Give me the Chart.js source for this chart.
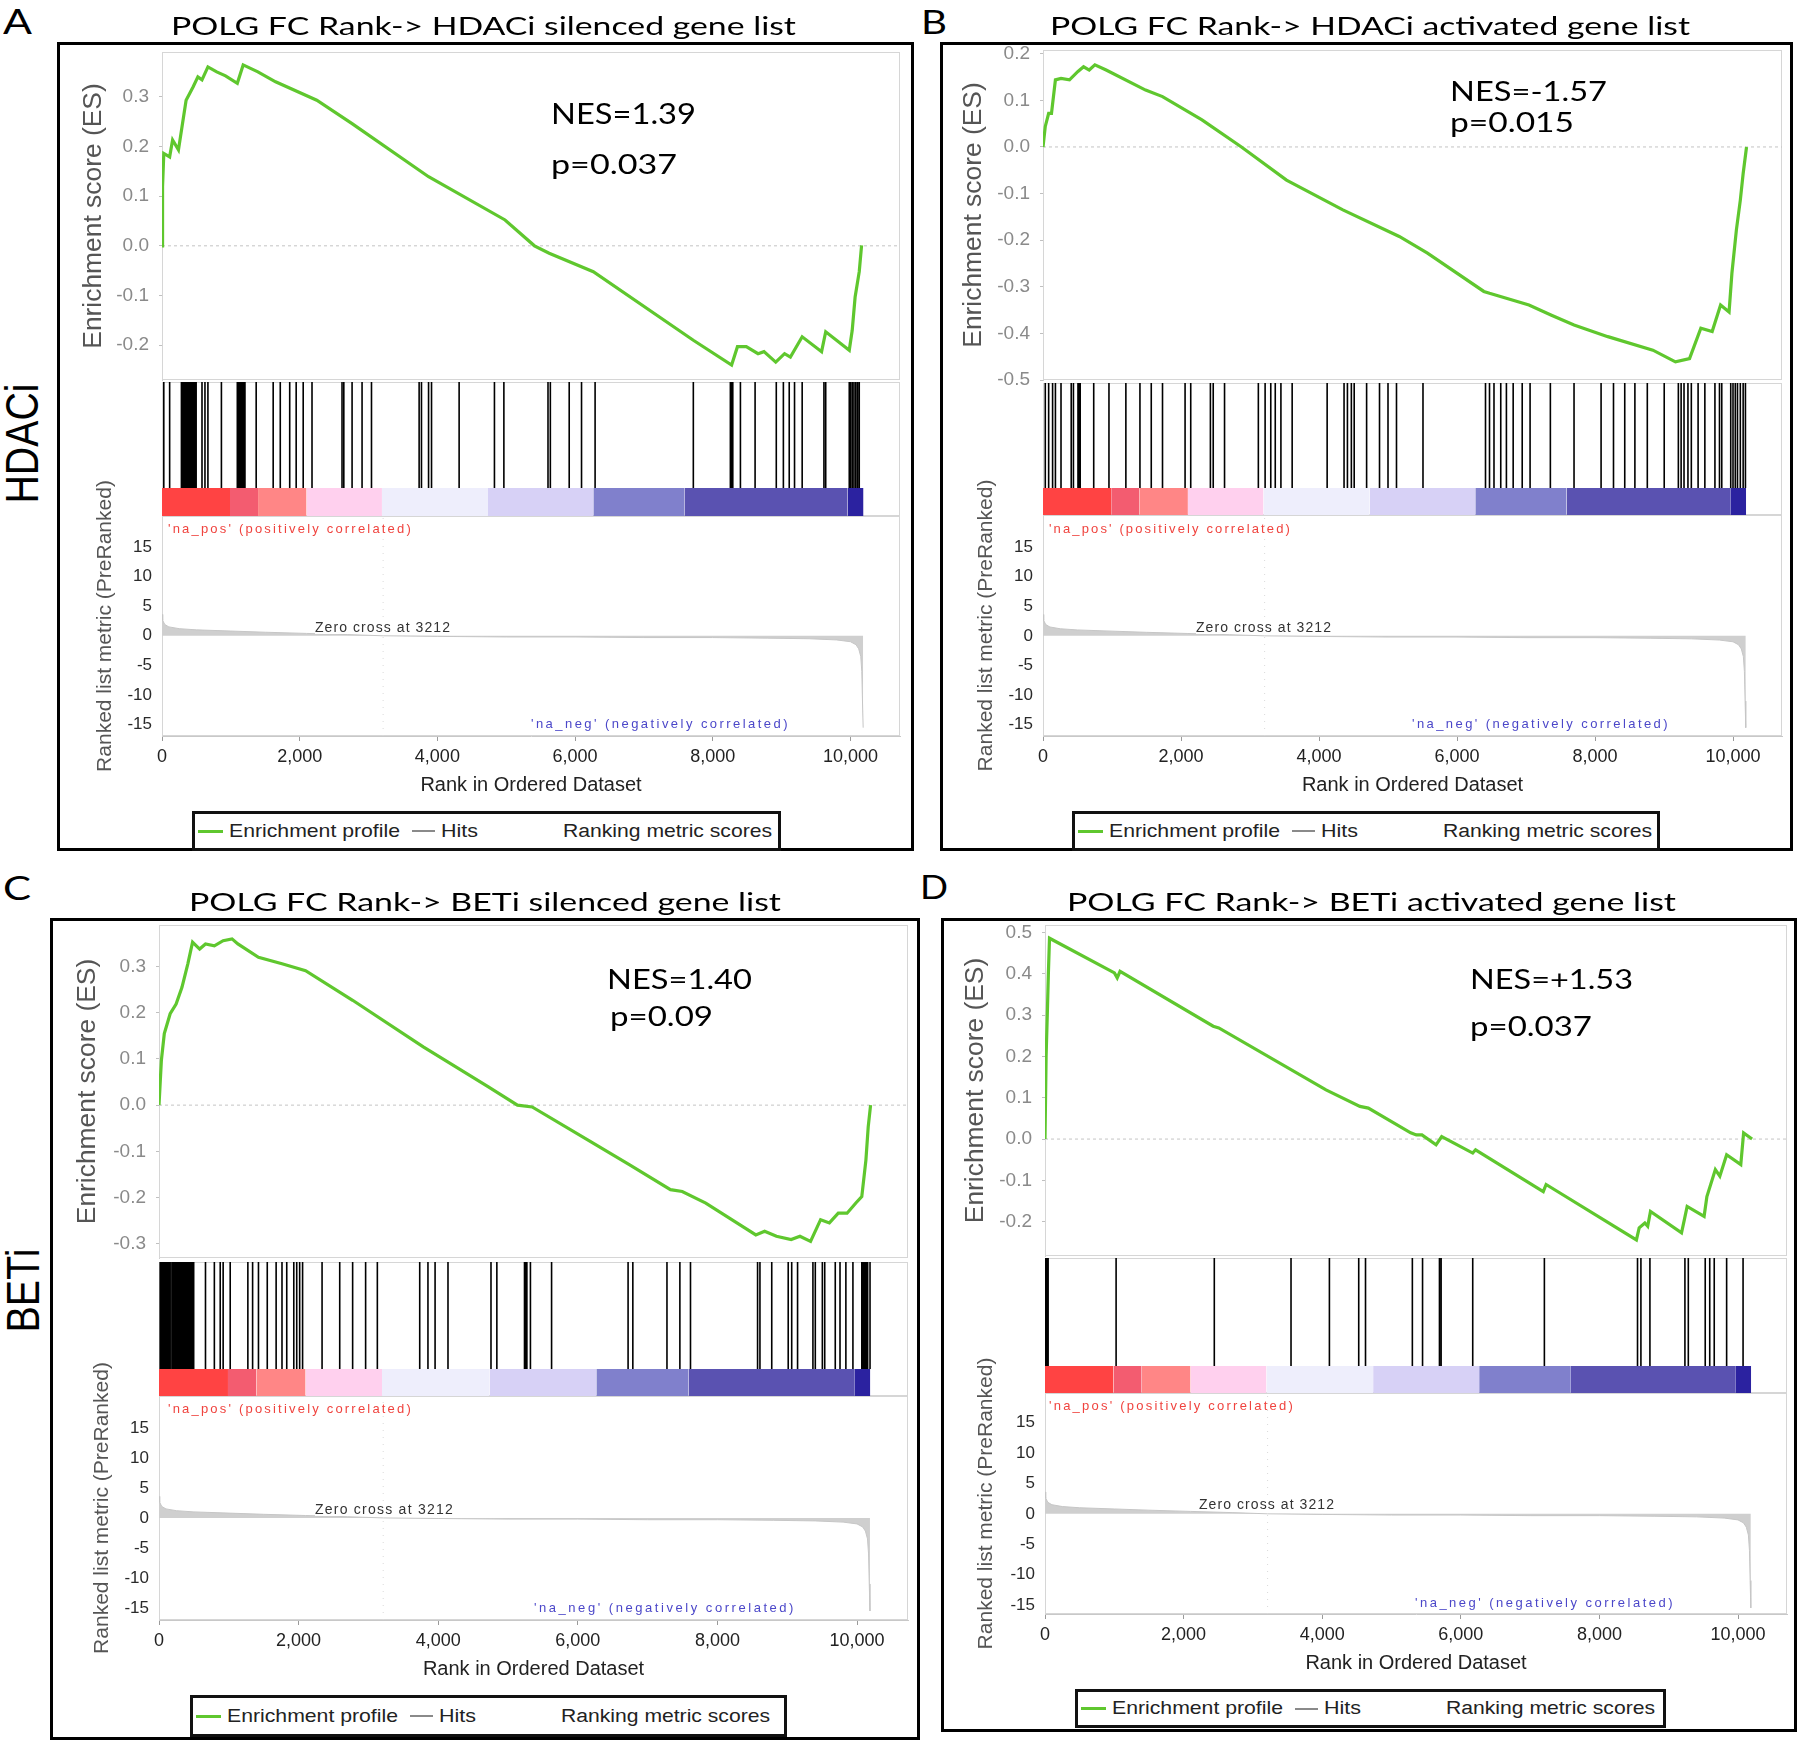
<!DOCTYPE html>
<html>
<head>
<meta charset="utf-8">
<script src="https://cdn.jsdelivr.net/npm/chart.js@4.4.1/dist/chart.umd.min.js"></script>
<style>
  html, body { margin: 0; padding: 0; background: #fff; }
  #page { position: relative; width: 1800px; height: 1747px; overflow: hidden; background: #fff; }
  canvas { position: absolute; }
  .frame { position: absolute; border: 3px solid #000; box-sizing: border-box; }
  .txt { position: absolute; white-space: nowrap; line-height: 1; transform-origin: 0 0; }
  .legend { position: absolute; border: 3px solid #111; box-sizing: border-box; background: #fff; }
  .swatch { position: absolute; }
</style>
</head>
<body>
<div id="page"></div>
<script>
// ---- data ----
const rankTicks = [0, 2000, 4000, 6000, 8000, 10000];
const metricTicks = [-15, -10, -5, 0, 5, 10, 15];
const esTicksA = [-0.2, -0.1, 0, 0.1, 0.2, 0.3];
const esTicksB = [-0.5, -0.4, -0.3, -0.2, -0.1, 0, 0.1, 0.2];
const esTicksC = [-0.3, -0.2, -0.1, 0, 0.1, 0.2, 0.3];
const esTicksD = [-0.2, -0.1, 0, 0.1, 0.2, 0.3, 0.4, 0.5];

// ranked list metric (same ranked list in all four panels)
const metricRank = [0, 10, 40, 100, 250, 500, 1000, 1500, 2100, 2700, 3212, 4000, 5000, 6000, 7000, 8000, 8800, 9400, 9800, 10000, 10080, 10120, 10150, 10165, 10175, 10185];
const metricValue = [3.6, 2.6, 1.9, 1.5, 1.2, 1.0, 0.8, 0.6, 0.4, 0.2, 0, -0.1, -0.2, -0.2, -0.3, -0.3, -0.4, -0.5, -0.7, -1.0, -1.5, -2.2, -3.5, -6, -11, -15.5];
const zeroCross = 3212;

// heat bar under the hits
const barEdges = [0, 988, 1395, 2100, 3195, 4735, 6265, 7588, 9960, 10190];
const barColors = ['#ff4343', '#f35c70', '#ff8686', '#ffd0ee', '#eeeefc', '#d7d1f6', '#8080cc', '#5a52b1', '#2b22a0'];

// A: HDACi silenced
const esRankA = [0, 8, 26, 111, 154, 239, 350, 453, 521, 581, 667, 795, 923, 1094, 1179, 1393, 1650, 2248, 2761, 3872, 4983, 5410, 5624, 6265, 7718, 8274, 8359, 8487, 8658, 8744, 8915, 9043, 9128, 9299, 9581, 9641, 9983, 10026, 10068, 10128, 10162];
const esValueA = [0, 0.119, 0.186, 0.179, 0.213, 0.193, 0.293, 0.320, 0.340, 0.334, 0.360, 0.350, 0.342, 0.327, 0.364, 0.350, 0.330, 0.293, 0.246, 0.139, 0.052, 0, -0.015, -0.052, -0.190, -0.240, -0.203, -0.203, -0.217, -0.213, -0.234, -0.217, -0.224, -0.183, -0.213, -0.173, -0.210, -0.170, -0.103, -0.052, 0.001];
const hitsA = [26, 111, 282, 295, 308, 320, 333, 350, 368, 390, 410, 430, 453, 475, 496, 581, 624, 667, 863, 1094, 1107, 1120, 1137, 1154, 1167, 1179, 1192, 1205, 1368, 1615, 1718, 1855, 1949, 2051, 2179, 2615, 2641, 2761, 2906, 3043, 3735, 3769, 3872, 3915, 4316, 4829, 4966, 5607, 5641, 5915, 6094, 6291, 7718, 8256, 8275, 8291, 8402, 8615, 8923, 9026, 9111, 9188, 9299, 9615, 9641, 9983, 10000, 10026, 10051, 10077, 10103, 10128];

// B: HDACi activated
const esRankB = [0, 33, 82, 123, 180, 261, 384, 507, 588, 670, 752, 915, 1487, 1732, 2304, 2876, 3529, 4346, 5163, 5572, 6389, 6471, 7043, 7369, 7696, 8186, 8839, 9166, 9370, 9534, 9698, 9820, 9943, 9984, 10049, 10106, 10147, 10196];
const esValueB = [0, 0.044, 0.072, 0.072, 0.144, 0.147, 0.144, 0.162, 0.172, 0.165, 0.176, 0.165, 0.122, 0.108, 0.058, 0, -0.071, -0.135, -0.192, -0.228, -0.310, -0.314, -0.339, -0.361, -0.382, -0.407, -0.436, -0.461, -0.454, -0.389, -0.396, -0.339, -0.354, -0.271, -0.178, -0.114, -0.057, 0];
const hitsB = [33, 82, 139, 180, 261, 409, 441, 507, 525, 539, 735, 956, 1201, 1405, 1569, 1732, 2059, 2141, 2426, 2467, 2631, 3121, 3219, 3301, 3366, 3448, 3611, 4118, 4363, 4412, 4469, 4510, 4690, 4877, 5000, 5123, 5507, 6413, 6471, 6536, 6634, 6716, 6814, 6945, 7059, 7353, 7696, 8088, 8268, 8431, 8578, 8758, 9003, 9208, 9248, 9290, 9347, 9396, 9494, 9592, 9738, 9804, 9837, 9967, 10000, 10033, 10065, 10106, 10147, 10180];

// C: BETi silenced
const esRankC = [0, 34, 76, 160, 245, 329, 413, 481, 582, 666, 793, 919, 1046, 1130, 1425, 1762, 2100, 2774, 3786, 4713, 5135, 5346, 6147, 6737, 7327, 7496, 7833, 8550, 8676, 8845, 9056, 9182, 9334, 9478, 9604, 9731, 9857, 9983, 10068, 10127, 10160, 10194];
const esValueC = [0, 0.097, 0.155, 0.198, 0.219, 0.255, 0.306, 0.353, 0.338, 0.349, 0.345, 0.356, 0.360, 0.349, 0.320, 0.306, 0.291, 0.227, 0.126, 0.040, 0, -0.004, -0.076, -0.129, -0.183, -0.187, -0.212, -0.281, -0.273, -0.284, -0.291, -0.284, -0.295, -0.248, -0.255, -0.234, -0.234, -0.212, -0.198, -0.119, -0.047, 0];
const hitsC = [17, 30, 42, 60, 76, 95, 118, 140, 160, 185, 202, 225, 245, 265, 287, 310, 329, 350, 371, 392, 413, 435, 455, 476, 497, 666, 793, 877, 919, 1020, 1273, 1341, 1425, 1551, 1678, 1762, 1830, 1931, 1973, 2015, 2057, 2336, 2589, 2774, 2960, 3128, 3735, 3853, 3955, 4140, 4756, 4840, 5236, 5253, 5270, 5321, 5624, 6720, 6788, 7277, 7462, 7614, 8575, 8609, 8778, 9014, 9064, 9148, 9368, 9402, 9503, 9537, 9688, 9756, 9840, 9941, 10068, 10090, 10110, 10130, 10152, 10186];

// D: BETi activated
const esRankD = [0, 16, 33, 49, 65, 1002, 1042, 1083, 2427, 2508, 4055, 4544, 4666, 5277, 5358, 5439, 5643, 5724, 6172, 6213, 7190, 7231, 8534, 8574, 8656, 8697, 8737, 9185, 9226, 9266, 9511, 9551, 9673, 9738, 9836, 10040, 10081, 10203];
const esValueD = [0, 0.2, 0.301, 0.402, 0.486, 0.402, 0.390, 0.406, 0.273, 0.269, 0.119, 0.079, 0.075, 0.015, 0.010, 0.010, -0.014, 0.006, -0.034, -0.026, -0.127, -0.110, -0.244, -0.215, -0.203, -0.211, -0.175, -0.227, -0.195, -0.163, -0.187, -0.139, -0.074, -0.090, -0.038, -0.062, 0.015, 0];
const hitsD = [5, 16, 33, 45, 1026, 2443, 3550, 4104, 4527, 4625, 5301, 5448, 5692, 5716, 6172, 7206, 8550, 8599, 8729, 9234, 9283, 9527, 9592, 9657, 9836, 10073];

// ---- layout ----
const GREEN = '#5fc72e';
const SANS = "'Liberation Sans', Arial, sans-serif";
const LATO = "Lato, 'Open Sans', sans-serif";
const page = document.getElementById('page');

Chart.defaults.font.family = SANS;
Chart.defaults.animation = false;
Chart.defaults.responsive = false;
Chart.defaults.devicePixelRatio = 1;
Chart.defaults.plugins.legend.display = false;
Chart.defaults.plugins.tooltip.enabled = false;

const panels = [
  { title: 'POLG FC Rank-> HDACi silenced gene list', left: 162, width: 738, xmax: 10720,
    esTop: 52, esBottom: 380, esMin: -0.27, esMax: 0.39, esOff: 68, mOff: 56,
    hitsTop: 382, cbFrac: 0.209, mTop: 516, mBottom: 736, mMin: -16.9, mMax: 20.2,
    esRank: esRankA, esValue: esValueA, hits: hitsA, esTicks: esTicksA },
  { title: 'POLG FC Rank-> HDACi activated gene list', left: 1043, width: 739, xmax: 10710,
    esTop: 50, esBottom: 380, esMin: -0.5, esMax: 0.208, esOff: 69, mOff: 56,
    hitsTop: 383, cbFrac: 0.205, mTop: 515, mBottom: 736, mMin: -16.9, mMax: 20.4,
    esRank: esRankB, esValue: esValueB, hits: hitsB, esTicks: esTicksB },
  { title: 'POLG FC Rank-> BETi silenced gene list', left: 159, width: 749, xmax: 10730,
    esTop: 925, esBottom: 1258, esMin: -0.331, esMax: 0.39, esOff: 71, mOff: 56,
    hitsTop: 1262, cbFrac: 0.201, mTop: 1396, mBottom: 1620, mMin: -17, mMax: 20.3,
    esRank: esRankC, esValue: esValueC, hits: hitsC, esTicks: esTicksC },
  { title: 'POLG FC Rank-> BETi activated gene list', left: 1045, width: 742, xmax: 10707,
    esTop: 925, esBottom: 1256, esMin: -0.283, esMax: 0.518, esOff: 69, mOff: 58,
    hitsTop: 1258, cbFrac: 0.2, mTop: 1393, mBottom: 1614, mMin: -16.5, mMax: 19.9,
    esRank: esRankD, esValue: esValueD, hits: hitsD, esTicks: esTicksD }
];

// light grey box round each plot area
const plotFrame = {
  id: 'plotFrame',
  beforeDatasetsDraw(chart) {
    const a = chart.chartArea, ctx = chart.ctx;
    ctx.save();
    ctx.strokeStyle = '#d6d6d6';
    ctx.lineWidth = 1;
    ctx.strokeRect(a.left + 0.5, a.top + 0.5, a.right - a.left - 1, a.bottom - a.top - 1);
    ctx.restore();
  }
};

function makeCanvas(left, top, width, height) {
  const c = document.createElement('canvas');
  c.width = width;
  c.height = height;
  c.style.left = left + 'px';
  c.style.top = top + 'px';
  c.style.width = width + 'px';
  c.style.height = height + 'px';
  page.appendChild(c);
  return c;
}

function fixTicks(values) {
  return ax => { ax.ticks = values.map(v => ({ value: v })); };
}

function esChart(p) {
  const padL = Math.round(p.esOff + 15.8), padT = 14, padR = 12, padB = 14;
  const h = p.esBottom - p.esTop;
  const c = makeCanvas(p.left - padL, p.esTop - padT, p.width + padL + padR, h + padT + padB);
  new Chart(c, {
    type: 'line',
    data: {
      datasets: [
        { data: p.esRank.map((r, i) => ({ x: r, y: p.esValue[i] })),
          borderColor: GREEN, borderWidth: 3.2, pointRadius: 0, tension: 0, order: 1 },
        { data: [{ x: 0, y: 0 }, { x: p.xmax, y: 0 }],
          borderColor: '#c4c4c4', borderWidth: 1, borderDash: [3, 3], pointRadius: 0, order: 2 }
      ]
    },
    options: {
      layout: { padding: { top: padT, right: padR, bottom: padB, left: 0 } },
      scales: {
        x: { type: 'linear', min: 0, max: p.xmax, display: false },
        y: {
          type: 'linear', min: p.esMin, max: p.esMax,
          afterBuildTicks: fixTicks(p.esTicks),
          afterFit: ax => { ax.width = padL; ax.paddingTop = 0; ax.paddingBottom = 0; },
          ticks: { color: '#8a8a8a', font: { size: 19 }, padding: 10, callback: v => v.toFixed(1) },
          grid: { drawOnChartArea: false, drawTicks: true, tickLength: 3, tickColor: '#c0c0c0' },
          border: { color: '#cfcfcf' },
          title: { display: true, text: 'Enrichment score (ES)', color: '#555', font: { size: 26.4 }, padding: 0 }
        }
      }
    },
    plugins: [plotFrame]
  });
}

function hitsChart(p) {
  const h = p.mTop - p.hitsTop;
  const c = makeCanvas(p.left, p.hitsTop, p.width, h);
  const cb = p.cbFrac;
  const hitData = [];
  p.hits.forEach(r => { hitData.push({ x: r, y: cb }, { x: r, y: 1 }, { x: r, y: null }); });
  const bars = barColors.map((col, i) => ({
    data: [{ x: barEdges[i], y: cb }, { x: barEdges[i + 1], y: cb }],
    fill: 'origin', backgroundColor: col, borderWidth: 0, pointRadius: 0, order: 2
  }));
  new Chart(c, {
    type: 'line',
    data: {
      datasets: [
        { data: hitData, borderColor: '#000', borderWidth: 1.6, pointRadius: 0, spanGaps: false, order: 1 }
      ].concat(bars)
    },
    options: {
      layout: { padding: 0 },
      scales: {
        x: { type: 'linear', min: 0, max: p.xmax, display: false },
        y: { type: 'linear', min: 0, max: 1, display: false }
      }
    },
    plugins: [plotFrame]
  });
}

function metricChart(p) {
  const padL = Math.round(p.mOff + 12.6), padT = 90, padR = 12, padB = 61;
  const h = p.mBottom - p.mTop;
  const c = makeCanvas(p.left - padL, p.mTop - padT, p.width + padL + padR, h + padT + padB);
  new Chart(c, {
    type: 'line',
    data: {
      datasets: [
        { data: metricRank.map((r, i) => ({ x: r, y: metricValue[i] })),
          borderColor: '#c6c6c6', borderWidth: 1, backgroundColor: '#cfcfcf',
          fill: 'origin', pointRadius: 0, tension: 0 },
        { data: [{ x: zeroCross, y: p.mMin }, { x: zeroCross, y: p.mMax }],
          borderColor: '#dadada', borderWidth: 1, borderDash: [1, 6], pointRadius: 0 }
      ]
    },
    options: {
      layout: { padding: { top: padT, right: padR, left: 0, bottom: 0 } },
      scales: {
        x: {
          type: 'linear', min: 0, max: p.xmax,
          afterBuildTicks: fixTicks(rankTicks),
          afterFit: ax => { ax.height = padB; ax.paddingLeft = 0; ax.paddingRight = 0; },
          ticks: { color: '#222', font: { size: 18 }, padding: 5, maxRotation: 0, autoSkip: false,
                   callback: v => v.toLocaleString('en-US') },
          grid: { drawOnChartArea: false, tickLength: 5, tickColor: '#9a9a9a' },
          border: { color: '#c8c8c8' },
          title: { display: true, text: 'Rank in Ordered Dataset', color: '#222', font: { size: 20 }, padding: 0 }
        },
        y: {
          type: 'linear', min: p.mMin, max: p.mMax,
          afterBuildTicks: fixTicks(metricTicks),
          afterFit: ax => { ax.width = padL; ax.paddingTop = 0; ax.paddingBottom = 0; },
          ticks: { color: '#2a2a2a', font: { size: 17 }, padding: 10 },
          grid: { drawOnChartArea: false, drawTicks: false },
          border: { color: '#cfcfcf' },
          title: { display: true, text: 'Ranked list metric (PreRanked)', color: '#555', font: { size: 21 }, padding: 0 }
        }
      }
    },
    plugins: [plotFrame]
  });
}

// ---- text helpers ----
function addText(str, o) {
  const el = document.createElement('div');
  el.className = 'txt';
  el.textContent = str;
  const fam = o.fam || LATO;
  const capRatio = fam === LATO ? 0.7165 : 0.716;
  const topRatio = fam === LATO ? 0.17 : 0.13;
  const size = o.size || o.capH / capRatio;
  el.style.fontFamily = fam;
  el.style.fontSize = size + 'px';
  el.style.color = o.color || '#000';
  if (o.bg) el.style.background = o.bg;
  page.appendChild(el);
  const natural = el.getBoundingClientRect().width;
  const top = o.capTop !== undefined ? o.capTop - topRatio * size : o.cy - size * 0.5;
  el.style.left = o.x + 'px';
  el.style.top = top + 'px';
  if (o.w) {
    if (o.spread) el.style.letterSpacing = ((o.w - natural) / str.length) + 'px';
    else el.style.transform = 'scaleX(' + (o.w / natural) + ')';
  }
  return el;
}

function addRotated(str, cx, cy, capH, len) {
  const el = document.createElement('div');
  el.className = 'txt';
  el.textContent = str;
  const size = capH / 0.716;
  el.style.fontFamily = SANS;
  el.style.fontSize = size + 'px';
  page.appendChild(el);
  const w = el.getBoundingClientRect().width;
  el.style.left = (cx - w / 2) + 'px';
  el.style.top = (cy - size * 0.488) + 'px';
  el.style.transformOrigin = (w / 2) + 'px ' + (size * 0.488) + 'px';
  el.style.transform = 'rotate(-90deg) scaleX(' + (len / w) + ')';
}

function addBox(cls, x, y, w, h) {
  const d = document.createElement('div');
  d.className = cls;
  d.style.left = x + 'px';
  d.style.top = y + 'px';
  d.style.width = w + 'px';
  d.style.height = h + 'px';
  page.appendChild(d);
  return d;
}

function addLegend(x, y, w, h) {
  addBox('legend', x, y, w, h);
  const cy = y + h / 2;
  const sw1 = addBox('swatch', x + 6, cy - 1.5, 25, 3);
  sw1.style.background = GREEN;
  const sw2 = addBox('swatch', x + 220, cy - 1, 23, 2);
  sw2.style.background = '#8a8a8a';
  const capTop = cy - 7;
  addText('Enrichment profile', { x: x + 37, capTop: capTop, capH: 13.5, w: 171, fam: SANS, color: '#222' });
  addText('Hits', { x: x + 249, capTop: capTop, capH: 13.5, w: 37, fam: SANS, color: '#222' });
  addText('Ranking metric scores', { x: x + 371, capTop: capTop, capH: 13.5, w: 209, fam: SANS, color: '#222' });
}

// ---- frames ----
addBox('frame', 57, 42, 857, 809);
addBox('frame', 940, 42, 853, 809);
addBox('frame', 50, 918, 870, 822);
addBox('frame', 941, 918, 856, 814);

// ---- charts ----
panels.forEach(p => { esChart(p); hitsChart(p); metricChart(p); });

// ---- texts ----
// panel letters
addText('A', { x: 3, capTop: 10, capH: 25, w: 29 });
addText('B', { x: 921, capTop: 11, capH: 24, w: 26 });
addText('C', { x: 3, capTop: 877, capH: 24, w: 28 });
addText('D', { x: 920, capTop: 876, capH: 24, w: 28 });

// panel titles
addText(panels[0].title, { x: 171, capTop: 17, capH: 18.5, w: 625 });
addText(panels[1].title, { x: 1050, capTop: 17, capH: 18.5, w: 640 });
addText(panels[2].title, { x: 189, capTop: 893, capH: 18.5, w: 592 });
addText(panels[3].title, { x: 1067, capTop: 893, capH: 18.5, w: 609 });

// NES / p annotations
addText('NES=1.39', { x: 551, capTop: 103, capH: 21, w: 145 });
addText('p=0.037', { x: 551, capTop: 155, capH: 20, w: 126 });
addText('NES=-1.57', { x: 1450, capTop: 82, capH: 20, w: 157 });
addText('p=0.015', { x: 1450, capTop: 113, capH: 20, w: 124 });
addText('NES=1.40', { x: 607, capTop: 970, capH: 20, w: 145 });
addText('p=0.09', { x: 610, capTop: 1007, capH: 20, w: 103 });
addText('NES=+1.53', { x: 1470, capTop: 970, capH: 20, w: 163 });
addText('p=0.037', { x: 1470, capTop: 1017, capH: 20, w: 122 });

// row labels
addRotated('HDACi', 21, 443, 33, 120);
addRotated('BETi', 22, 1290, 33, 84);

// metric plot annotations
const posLbl = [[168, 528, 245], [1049, 528, 243], [168, 1408, 245], [1049, 1405, 246]];
const negLbl = [[531, 723, 259], [1412, 723, 258], [534, 1607, 262], [1415, 1602, 260]];
const zeroLbl = [[315, 627, 136], [1196, 627, 136], [315, 1509, 139], [1199, 1504, 136]];
posLbl.forEach(a => addText("'na_pos' (positively correlated)", { x: a[0], cy: a[1], size: 13, w: a[2], spread: true, fam: SANS, color: '#f0433e' }));
negLbl.forEach(a => addText("'na_neg' (negatively correlated)", { x: a[0], cy: a[1], size: 13, w: a[2], spread: true, fam: SANS, color: '#4b47c9' }));
zeroLbl.forEach(a => addText('Zero cross at 3212', { x: a[0], cy: a[1], size: 14, w: a[2], spread: true, fam: SANS, color: '#333', bg: '#fff' }));

// legends
addLegend(192, 811, 589, 40);
addLegend(1072, 811, 588, 40);
addLegend(190, 1695, 597, 42);
addLegend(1075, 1689, 591, 39);
</script>
</body>
</html>
